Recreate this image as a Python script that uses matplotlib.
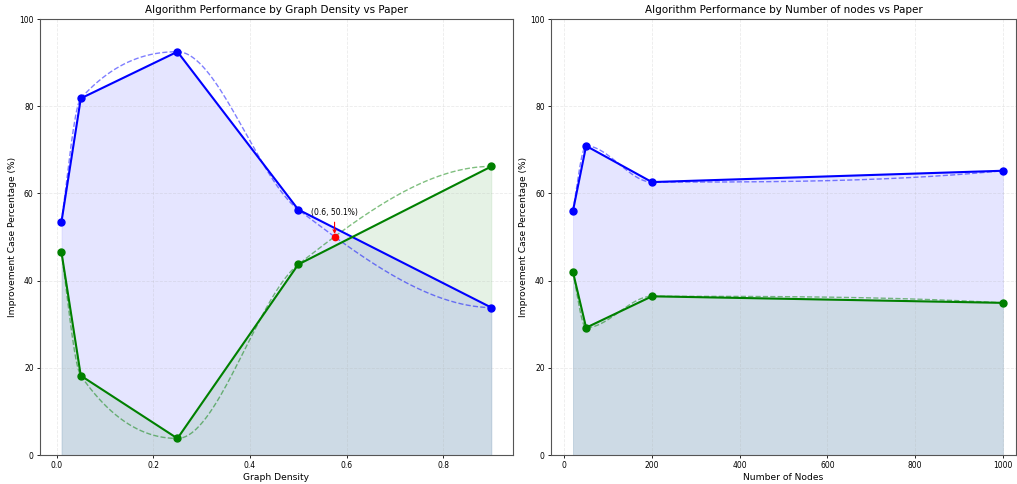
import numpy as np
import matplotlib
matplotlib.use("Agg")
import matplotlib.pyplot as plt

# ---- data ----
density_x = [0.01, 0.05, 0.25, 0.5, 0.9]
density_blue = [53.5, 81.8, 92.5, 56.3, 33.8]
density_green = [46.5, 18.2, 3.8, 43.7, 66.2]

nodes_x = [20, 50, 200, 1000]
nodes_blue = [56.0, 70.9, 62.6, 65.2]
nodes_green = [42.0, 29.2, 36.4, 34.9]

titles = ["Algorithm Performance by Graph Density vs Paper",
          "Algorithm Performance by Number of nodes vs Paper"]
xlabels = ["Graph Density", "Number of Nodes"]
ylabel = "Improvement Case Percentage (%)"


def pchip(x, y, xn):
    x = np.asarray(x, float)
    y = np.asarray(y, float)
    h = np.diff(x)
    delta = np.diff(y) / h
    n = len(x)
    d = np.zeros(n)
    for k in range(1, n - 1):
        if delta[k - 1] * delta[k] <= 0:
            d[k] = 0.0
        else:
            w1 = 2 * h[k] + h[k - 1]
            w2 = h[k] + 2 * h[k - 1]
            d[k] = (w1 + w2) / (w1 / delta[k - 1] + w2 / delta[k])

    def edge(h0, h1, m0, m1):
        dd = ((2 * h0 + h1) * m0 - h0 * m1) / (h0 + h1)
        if np.sign(dd) != np.sign(m0):
            dd = 0.0
        elif np.sign(m0) != np.sign(m1) and abs(dd) > abs(3 * m0):
            dd = 3 * m0
        return dd

    d[0] = edge(h[0], h[1], delta[0], delta[1])
    d[-1] = edge(h[-1], h[-2], delta[-1], delta[-2])
    xn = np.asarray(xn, float)
    idx = np.clip(np.searchsorted(x, xn) - 1, 0, n - 2)
    t = (xn - x[idx]) / h[idx]
    h00 = 2 * t**3 - 3 * t**2 + 1
    h10 = t**3 - 2 * t**2 + t
    h01 = -2 * t**3 + 3 * t**2
    h11 = t**3 - t**2
    return (h00 * y[idx] + h10 * h[idx] * d[idx] + h01 * y[idx + 1]
            + h11 * h[idx] * d[idx + 1])


fig = plt.figure(figsize=(10.17, 4.84), dpi=100)
ax1 = fig.add_axes([0.0393, 0.0599, 0.4651, 0.9008])
ax2 = fig.add_axes([0.5418, 0.0599, 0.4572, 0.9008])

for ax, xs, b, g, title, xl in [
        (ax1, density_x, density_blue, density_green, titles[0], xlabels[0]),
        (ax2, nodes_x, nodes_blue, nodes_green, titles[1], xlabels[1])]:
    xs_a = np.asarray(xs, float)
    xd = np.linspace(xs_a[0], xs_a[-1], 400)
    bs = pchip(xs, b, xd)
    gs = pchip(xs, g, xd)
    ax.fill_between(xs, b, color='blue', alpha=0.1, linewidth=0.5)
    ax.fill_between(xs, g, color='green', alpha=0.1, linewidth=0.5)
    ax.plot(xd, bs, '--', color='blue', alpha=0.5, linewidth=1)
    ax.plot(xd, gs, '--', color='green', alpha=0.5, linewidth=1)
    ax.plot(xs, b, '-o', color='blue', linewidth=1.5, markersize=5)
    ax.plot(xs, g, '-o', color='green', linewidth=1.5, markersize=5)
    ax.set_ylim(0, 100)
    ax.set_title(title, fontsize=7.5, pad=4)
    ax.set_xlabel(xl, fontsize=6.6, labelpad=2)
    ax.set_ylabel(ylabel, fontsize=6.6, labelpad=1.5)
    ax.tick_params(labelsize=5.5, length=2.5, width=0.6, pad=2)
    ax.grid(True, linestyle='--', alpha=0.25, linewidth=0.6)
    for s in ax.spines.values():
        s.set_linewidth(0.8)
        s.set_color('#555555')

    if ax is ax1:
        diff = bs - gs
        sc = np.where(np.diff(np.sign(diff)) != 0)[0]
        sc = sc[xd[sc] > 0.3]
        i = sc[0]
        cx = xd[i] - diff[i] * (xd[i + 1] - xd[i]) / (diff[i + 1] - diff[i])
        cy = float(pchip(xs, b, [cx])[0])
        ax.plot([cx], [cy], 'o', color='red', markersize=4.5, zorder=5)
        ax.annotate(f"({cx:.1f}, {cy:.1f}%)", xy=(cx, cy),
                    xytext=(cx, cy + 4.6), ha='center', va='bottom',
                    fontsize=5.5,
                    arrowprops=dict(arrowstyle='->', color='red', lw=0.8))

ax2.set_xlim(-30, 1030)
fig.savefig("out.png", dpi=100)
